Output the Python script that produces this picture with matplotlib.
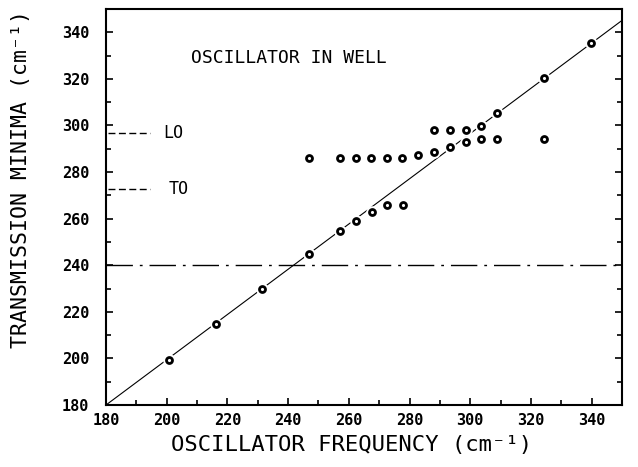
import matplotlib
matplotlib.use('Agg')
import matplotlib.pyplot as plt
from matplotlib.ticker import MultipleLocator

# measured transmission minima (x = oscillator freq, y = minimum), cm^-1
osc_freq = [200.8, 216.2, 231.5, 247.0, 257.2, 262.3, 267.5, 272.6, 277.9,
            246.9, 257.1, 262.3, 267.3, 272.5, 277.6, 282.9, 288.1,
            288.1, 293.3, 298.5,
            293.3, 298.5, 303.7, 303.7, 308.9, 308.9, 324.3, 324.3, 339.8]
trans_min = [199.3, 214.6, 229.7, 244.8, 254.8, 259.0, 263.0, 265.8, 265.8,
             285.9, 285.9, 285.9, 285.9, 285.9, 285.9, 287.3, 288.7,
             298.0, 298.0, 298.0,
             290.9, 292.7, 294.2, 299.9, 305.2, 294.2, 320.2, 294.2, 335.2]

diag_x = [180, 350]
diag_y = [180, 345.1]
well_level = 240
lo_level = 296.7
to_level = 272.6
marker_x = [180.5, 194.5]

mono = ['DejaVu Sans Mono', 'DejaVu Sans']

fig = plt.figure(figsize=(6.38, 4.67), dpi=100)
ax = fig.add_axes([106/638, 1-405/467, 516/638, 396/467])

ax.plot(diag_x, diag_y, color='black', linewidth=0.8)
ax.plot([180, 350], [well_level, well_level], color='black', linewidth=1.0,
        dashes=(19, 5, 2, 5))
ax.plot(marker_x, [lo_level, lo_level], color='black', linewidth=1.0, dashes=(5, 2.5))
ax.plot(marker_x, [to_level, to_level], color='black', linewidth=1.0, dashes=(5, 2.5))

# white halo breaks the line around each point, then the ring itself
ax.plot(osc_freq, trans_min, linestyle='none', marker='o', markersize=9,
        markerfacecolor='white', markeredgecolor='white', markeredgewidth=0)
ax.plot(osc_freq, trans_min, linestyle='none', marker='o', markersize=4.3,
        markerfacecolor='white', markeredgecolor='black', markeredgewidth=2.0)

ax.text(199, lo_level, 'LO', family=mono, fontsize=12, va='center', ha='left')
ax.text(200.5, to_level, 'TO', family=mono, fontsize=12, va='center', ha='left')
ax.text(208, 329, 'OSCILLATOR IN WELL', family=mono, fontsize=13, va='center', ha='left')

ax.set_xlim(180, 350)
ax.set_ylim(180, 350)
ax.xaxis.set_minor_locator(MultipleLocator(10))
ax.yaxis.set_minor_locator(MultipleLocator(10))
ax.set_xticks(range(180, 341, 20))
ax.set_yticks(range(180, 341, 20))
ax.tick_params(which='both', direction='in', right=True, width=1.2)
ax.tick_params(which='major', length=5, labelsize=11)
ax.tick_params(which='minor', length=3.5)
ax.tick_params(axis='x', pad=6)
ax.tick_params(axis='y', pad=12)
for lab in ax.get_xticklabels() + ax.get_yticklabels():
    lab.set_family(mono)
    lab.set_fontweight('bold')
for s in ax.spines.values():
    s.set_linewidth(1.5)

ax.set_xlabel('OSCILLATOR FREQUENCY (cm⁻¹)', family=mono, fontsize=16)
ax.xaxis.set_label_coords(0.475, -0.075)
ax.set_ylabel('TRANSMISSION MINIMA (cm⁻¹)', family=mono, fontsize=15.5)
ax.yaxis.set_label_coords(-0.145, 0.571)

fig.savefig('out.png', dpi=100)
